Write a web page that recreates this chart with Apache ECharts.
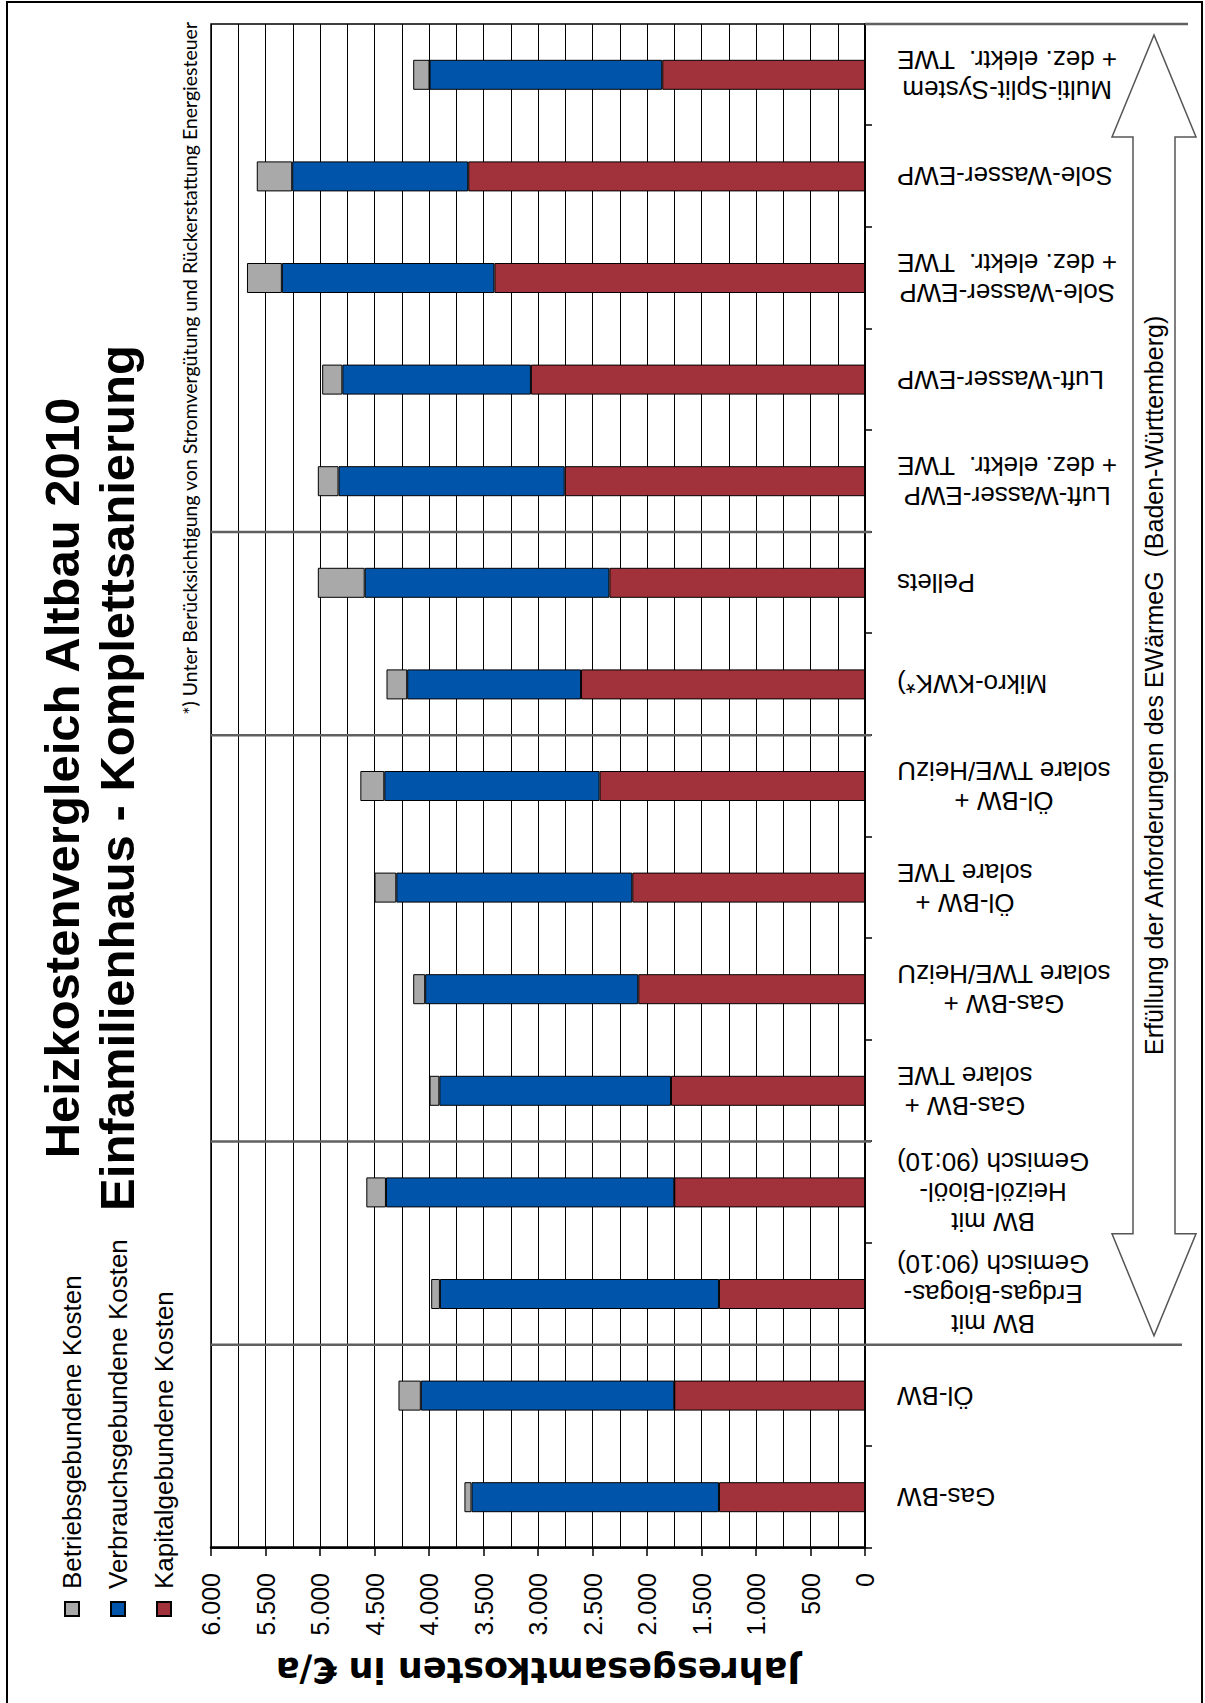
<!DOCTYPE html>
<html><head><meta charset="utf-8">
<style>
html,body{margin:0;padding:0;background:#fff;overflow:hidden;width:1205px;height:1703px;}
#wrap{position:absolute;left:-249px;top:249px;width:1703px;height:1205px;transform:rotate(-90deg);transform-origin:center center;}
#chart{width:1703px;height:1205px;}
</style>
<script src="https://cdn.jsdelivr.net/npm/echarts@6/dist/echarts.min.js"></script>
</head><body><div id="wrap"><div id="chart"></div></div>
<script>
const categories = [
  'Gas-BW',
  'Öl-BW',
  'BW mit\nErdgas-Biogas-\nGemisch (90:10)',
  'BW mit\nHeizöl-Bioöl-\nGemisch (90:10)',
  'Gas-BW +\nsolare TWE',
  'Gas-BW +\nsolare TWE/HeizU',
  'Öl-BW +\nsolare TWE',
  'Öl-BW +\nsolare TWE/HeizU',
  'Mikro-KWK*)',
  'Pellets',
  'Luft-Wasser-EWP\n+ dez. elektr.  TWE',
  'Luft-Wasser-EWP',
  'Sole-Wasser-EWP\n+ dez. elektr.  TWE',
  'Sole-Wasser-EWP',
  'Multi-Split-System\n+ dez. elektr.  TWE'
];
const kapital   = [1340, 1750, 1340, 1750, 1780, 2080, 2135, 2435, 2605, 2345, 2755, 3065, 3400, 3640, 1860];
const verbrauch = [2270, 2325, 2560, 2645, 2125, 1955, 2165, 1975, 1595, 2245, 2075, 1730, 1950, 1615, 2135];
const betrieb   = [  65,  205,   80,  180,   90,  110,  200,  220,  190,  430,  190,  185,  320,  325,  150];
const seriesNames = ['Betriebsgebundene Kosten', 'Verbrauchsgebundene Kosten', 'Kapitalgebundene Kosten'];
const seriesColors = ['#a9a9a9', '#0055aa', '#a1313a'];
const valueMin = 0, valueMax = 6000, valueStep = 500;
const groupBreaks = [2, 4, 8, 10];      // separators between groups (boundary before category index)
const longBreaks = [2];                  // separators extended below the axis
const titleLines = ['Heizkostenvergleich Altbau 2010', 'Einfamilienhaus - Komplettsanierung'];
const axisName = 'Jahresgesamtkosten in €/a';
const footnote = '*) Unter Berücksichtigung von Stromvergütung und Rückerstattung Energiesteuer';
const arrowText = 'Erfüllung der Anforderungen des EWärmeG  (Baden-Württemberg)';

const FONT = '"Liberation Sans", Arial, Helvetica, sans-serif';
const chart = echarts.init(document.getElementById('chart'), null, {renderer: 'svg'});

function fmt(v) { return String(v).replace(/\B(?=(\d{3})+(?!\d))/g, '.'); }

const barCommon = {type: 'bar', stack: 'total', barWidth: 30};

chart.setOption({
  animation: false,
  backgroundColor: '#fff',
  grid: {left: 155, right: 24, top: 211, bottom: 340, show: true, borderColor: '#000', borderWidth: 1.5, backgroundColor: 'transparent'},
  legend: {
    orient: 'vertical', left: 81, top: 54, itemGap: 20, itemWidth: 14, itemHeight: 14, icon: 'rect',
    data: seriesNames,
    textStyle: {fontFamily: FONT, fontSize: 26, color: '#000', padding: [0, 0, 0, 8]}
  },
  xAxis: {
    type: 'category', data: categories, boundaryGap: true,
    axisLine: {lineStyle: {color: '#000', width: 2}},
    axisTick: {show: true, length: 7, lineStyle: {color: '#000', width: 1.5}},
    splitLine: {show: false},
    axisLabel: {
      interval: 0, rotate: 90, margin: 32, color: '#000',
      formatter: v => v.split('\n').map(s => '{c|' + s + '}').join('\n'),
      rich: {c: {align: 'center', fontFamily: FONT, fontSize: 26, lineHeight: 30, color: '#000'}}
    }
  },
  yAxis: {
    type: 'value', min: valueMin, max: valueMax, interval: valueStep,
    name: axisName, nameLocation: 'middle', nameRotate: 90, nameGap: 104,
    nameTextStyle: {fontFamily: '"DejaVu Sans", Verdana, sans-serif', fontSize: 35, fontWeight: 'bold', color: '#000'},
    axisLine: {show: true, lineStyle: {color: '#000', width: 2.5}},
    axisTick: {show: true, length: 8, lineStyle: {color: '#000', width: 1.5}},
    axisLabel: {margin: 25, fontFamily: FONT, fontSize: 25, color: '#000', formatter: fmt},
    splitLine: {show: true, lineStyle: {color: '#000', width: 1}},
    minorTick: {show: false, splitNumber: 2},
    minorSplitLine: {show: true, lineStyle: {color: '#000', width: 1}}
  },
  series: [
    Object.assign({}, barCommon, {name: seriesNames[2], data: kapital, itemStyle: {color: seriesColors[2], borderColor: '#000', borderWidth: 1}}),
    Object.assign({}, barCommon, {name: seriesNames[1], data: verbrauch, itemStyle: {color: seriesColors[1], borderColor: '#000', borderWidth: 1}}),
    Object.assign({}, barCommon, {name: seriesNames[0], data: betrieb, itemStyle: {color: seriesColors[0], borderColor: '#000', borderWidth: 1}})
  ]
});

// geometry from the library's scales
const c0 = chart.convertToPixel({xAxisIndex: 0}, 0);
const c1 = chart.convertToPixel({xAxisIndex: 0}, 1);
const band = c1 - c0;
const boundary = i => chart.convertToPixel({xAxisIndex: 0}, Math.min(i, categories.length - 1)) + (i >= categories.length ? band / 2 : -band / 2);
const yTop = chart.convertToPixel({yAxisIndex: 0}, valueMax);
const yZero = chart.convertToPixel({yAxisIndex: 0}, valueMin);

const graphics = [];
graphics.push({type: 'rect', shape: {x: -10, y: 7, width: 1711, height: 1195}, style: {fill: 'none', stroke: '#000', lineWidth: 2}, z: 1, silent: true});
graphics.push({type: 'text', x: 925, y: 62, style: {text: titleLines[0], fontFamily: FONT, fontSize: 49, fontWeight: 'bold', fill: '#000', align: 'center', verticalAlign: 'middle'}, z: 10});
graphics.push({type: 'text', x: 925, y: 117, style: {text: titleLines[1], fontFamily: FONT, fontSize: 49, fontWeight: 'bold', fill: '#000', align: 'center', verticalAlign: 'middle'}, z: 10});
graphics.push({type: 'text', x: boundary(categories.length) + 2, y: 189, style: {text: footnote, fontFamily: 'Lato, "Open Sans", sans-serif', fontSize: 19.5, fill: '#000', align: 'right', verticalAlign: 'middle'}, z: 10});
groupBreaks.forEach(b => {
  const x = boundary(b);
  const long = longBreaks.indexOf(b) >= 0;
  graphics.push({type: 'line', shape: {x1: x, y1: yTop, x2: x, y2: long ? yZero + 317 : yZero + 6}, style: {stroke: '#606060', lineWidth: 2.5}, z: 100});
});
{
  const x = boundary(categories.length);
  graphics.push({type: 'line', shape: {x1: x, y1: yZero, x2: x, y2: yZero + 323}, style: {stroke: '#606060', lineWidth: 2.5}, z: 100});
}
{
  const xl = boundary(longBreaks[0]) + 9;
  const xr = boundary(categories.length) - 11;
  const cy = yZero + 289;
  const head = 102, hh = 42, sh = 21;
  graphics.push({type: 'polygon', shape: {points: [
    [xl, cy], [xl + head, cy - hh], [xl + head, cy - sh], [xr - head, cy - sh], [xr - head, cy - hh],
    [xr, cy], [xr - head, cy + hh], [xr - head, cy + sh], [xl + head, cy + sh], [xl + head, cy + hh]
  ]}, style: {fill: '#fff', stroke: '#555', lineWidth: 1.5}, z: 50});
  graphics.push({type: 'text', x: (xl + xr) / 2, y: cy, style: {text: arrowText, fontFamily: FONT, fontSize: 25, fill: '#000', align: 'center', verticalAlign: 'middle'}, z: 60});
}
chart.setOption({graphic: graphics});
</script>
</body></html>
